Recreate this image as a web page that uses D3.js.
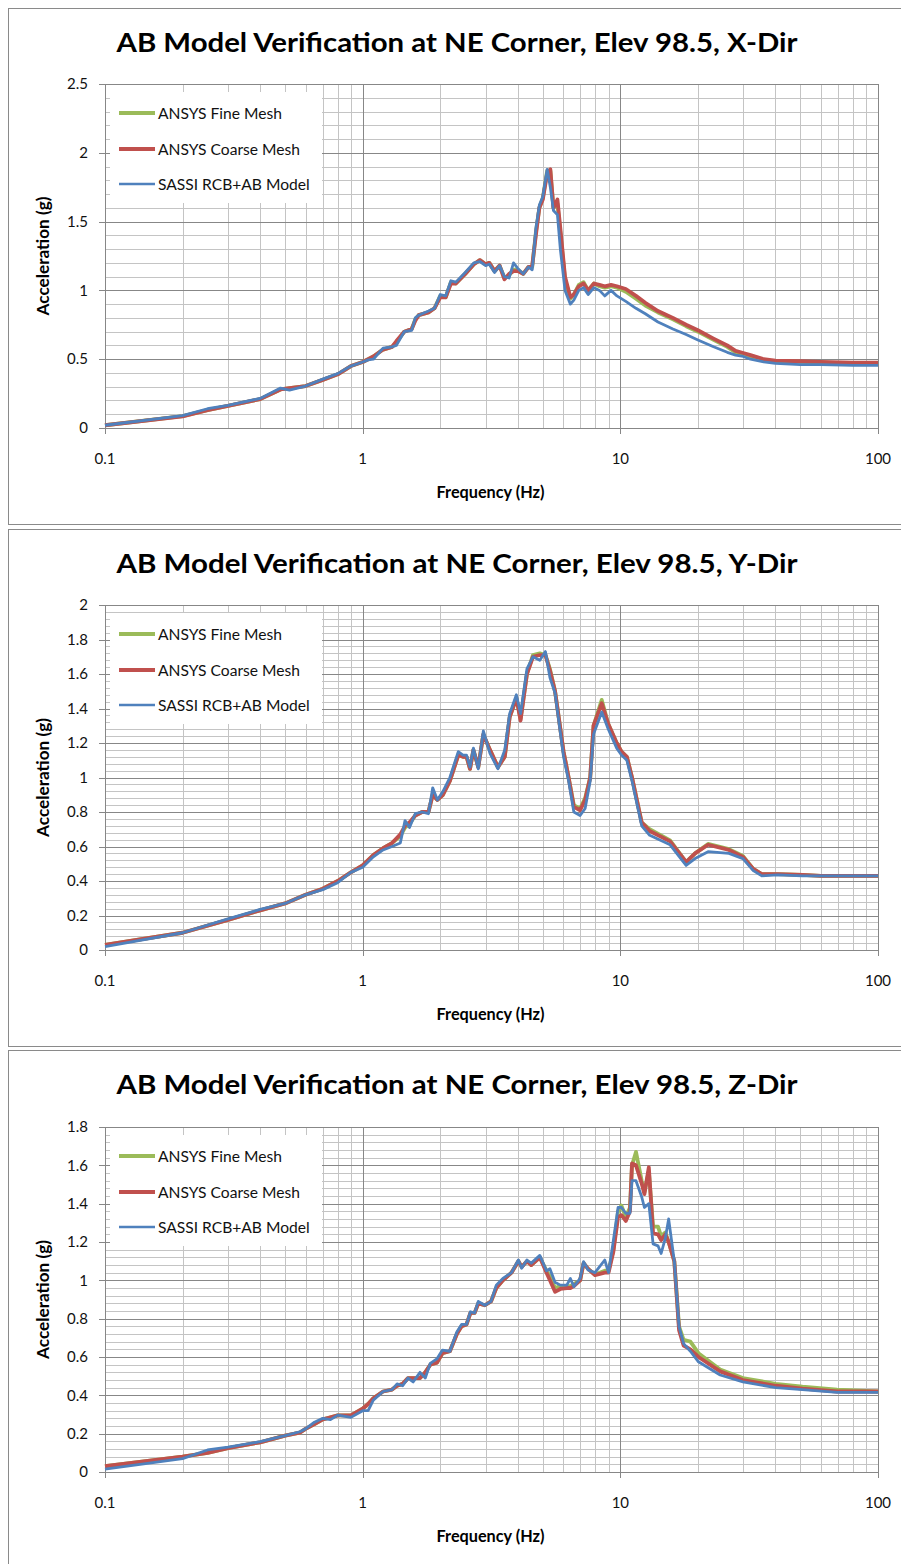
<!DOCTYPE html>
<html><head><meta charset="utf-8">
<script src="https://cdn.jsdelivr.net/npm/d3@7"></script>
<style>body{margin:0;background:#fff}svg{display:block}text{font-family:Lato,"Open Sans",sans-serif}</style>
</head><body>
<svg id="c" width="901" height="1564"></svg>
<script>
// ---------- DATA ----------
const seriesNames = ["ANSYS Fine Mesh", "ANSYS Coarse Mesh", "SASSI RCB+AB Model"];
const seriesColors = ["#9BBB59", "#C0504D", "#4F81BD"];
const titles = [
  "AB Model Verification at NE Corner, Elev 98.5, X-Dir",
  "AB Model Verification at NE Corner, Elev 98.5, Y-Dir",
  "AB Model Verification at NE Corner, Elev 98.5, Z-Dir"
];
const xTicks = [0.1, 1, 10, 100];
const yTicksX = [0, 0.5, 1, 1.5, 2, 2.5];
const yTicksY = [0, 0.2, 0.4, 0.6, 0.8, 1, 1.2, 1.4, 1.6, 1.8, 2];
const yTicksZ = [0, 0.2, 0.4, 0.6, 0.8, 1, 1.2, 1.4, 1.6, 1.8];

// X-Dir
const freqX = [0.1,0.2,0.25,0.3,0.4,0.48,0.52,0.6,0.7,0.8,0.9,1.0,1.05,1.1,1.2,1.3,1.35,1.45,1.55,1.6,1.65,1.8,1.9,2.0,2.1,2.2,2.3,2.5,2.7,2.85,3.0,3.1,3.25,3.4,3.55,3.7,3.85,4.0,4.2,4.4,4.55,4.7,4.85,5.0,5.2,5.35,5.5,5.7,5.85,6.1,6.4,6.6,6.9,7.2,7.5,7.9,8.3,8.7,9.2,9.7,10.5,11.5,12.5,14,16,18,20,23,26,28,30,32,36,40,50,60,80,100];
const fineX = [0.02,0.087,0.13,0.16,0.21,0.28,0.29,0.305,0.35,0.39,0.45,0.48,0.5,0.52,0.57,0.59,0.62,0.7,0.72,0.79,0.82,0.84,0.87,0.96,0.95,1.06,1.05,1.12,1.19,1.22,1.19,1.2,1.14,1.18,1.09,1.11,1.15,1.15,1.12,1.17,1.17,1.42,1.6,1.67,1.87,1.87,1.6,1.63,1.42,1.08,0.94,0.97,1.04,1.06,1.0,1.05,1.03,1.02,1.03,1.02,0.99,0.94,0.89,0.84,0.79,0.74,0.7,0.64,0.59,0.55,0.535,0.52,0.495,0.485,0.48,0.475,0.47,0.47];
const coarseX = [0.02,0.085,0.13,0.16,0.21,0.28,0.29,0.305,0.35,0.39,0.45,0.48,0.5,0.52,0.57,0.59,0.63,0.7,0.72,0.78,0.82,0.84,0.87,0.95,0.95,1.05,1.05,1.12,1.19,1.22,1.19,1.2,1.14,1.18,1.08,1.12,1.14,1.14,1.12,1.17,1.18,1.4,1.6,1.66,1.85,1.88,1.6,1.66,1.45,1.1,0.95,0.97,1.03,1.05,1.0,1.05,1.04,1.03,1.04,1.03,1.01,0.96,0.91,0.85,0.8,0.75,0.71,0.65,0.6,0.56,0.545,0.53,0.5,0.49,0.485,0.48,0.475,0.475];
const sassiX = [0.02,0.09,0.14,0.165,0.215,0.29,0.275,0.305,0.355,0.395,0.45,0.48,0.495,0.5,0.58,0.59,0.6,0.7,0.71,0.8,0.82,0.85,0.87,0.97,0.96,1.07,1.06,1.13,1.2,1.21,1.18,1.19,1.13,1.18,1.1,1.09,1.2,1.16,1.12,1.17,1.15,1.45,1.62,1.68,1.88,1.75,1.58,1.55,1.3,1.0,0.9,0.93,1.0,1.02,0.97,1.02,1.0,0.96,1.0,0.96,0.92,0.87,0.83,0.77,0.72,0.68,0.64,0.59,0.55,0.53,0.52,0.5,0.48,0.47,0.46,0.46,0.455,0.455];

// Y-Dir
const freqY = [0.1,0.2,0.3,0.4,0.5,0.6,0.7,0.8,0.9,1.0,1.1,1.2,1.3,1.4,1.46,1.52,1.6,1.7,1.8,1.87,1.95,2.05,2.18,2.35,2.45,2.53,2.61,2.69,2.81,2.94,3.12,3.35,3.56,3.72,3.95,4.1,4.34,4.58,4.87,5.12,5.33,5.58,6.02,6.3,6.6,6.98,7.3,7.64,7.87,8.47,8.98,9.68,10.1,10.6,11.1,12.1,13.0,15.6,18.0,19.5,21.9,26.4,29.9,32.8,35.4,40.8,50.9,60,100];
const fineY = [0.03,0.1,0.175,0.23,0.27,0.32,0.355,0.4,0.45,0.49,0.55,0.59,0.62,0.66,0.71,0.73,0.78,0.8,0.8,0.9,0.87,0.9,0.98,1.13,1.12,1.12,1.05,1.16,1.06,1.25,1.16,1.06,1.12,1.35,1.46,1.34,1.6,1.71,1.72,1.71,1.63,1.5,1.15,1.0,0.84,0.82,0.88,1.0,1.3,1.45,1.31,1.2,1.15,1.12,1.0,0.74,0.7,0.635,0.51,0.56,0.615,0.585,0.545,0.47,0.44,0.44,0.435,0.43,0.43];
const coarseY = [0.03,0.1,0.175,0.23,0.27,0.32,0.355,0.4,0.45,0.49,0.55,0.59,0.62,0.67,0.72,0.74,0.78,0.8,0.8,0.9,0.87,0.9,0.98,1.13,1.12,1.12,1.05,1.16,1.06,1.25,1.16,1.06,1.12,1.35,1.46,1.33,1.6,1.7,1.71,1.71,1.62,1.5,1.15,1.0,0.83,0.81,0.87,1.0,1.3,1.43,1.31,1.2,1.15,1.12,1.0,0.74,0.69,0.63,0.51,0.56,0.61,0.58,0.54,0.47,0.44,0.44,0.435,0.43,0.43];
const sassiY = [0.02,0.1,0.18,0.235,0.27,0.32,0.35,0.39,0.45,0.48,0.54,0.58,0.6,0.62,0.75,0.71,0.79,0.8,0.79,0.94,0.87,0.92,1.0,1.15,1.13,1.13,1.06,1.17,1.05,1.27,1.14,1.05,1.16,1.37,1.48,1.37,1.63,1.7,1.68,1.73,1.58,1.49,1.12,0.98,0.8,0.78,0.82,0.98,1.25,1.38,1.28,1.17,1.13,1.1,0.98,0.72,0.665,0.61,0.49,0.53,0.57,0.56,0.53,0.46,0.43,0.435,0.43,0.43,0.43];

// Z-Dir
const freqZ = [0.1,0.2,0.25,0.3,0.4,0.5,0.57,0.6,0.65,0.7,0.75,0.8,0.9,1.0,1.05,1.1,1.2,1.3,1.36,1.43,1.5,1.57,1.67,1.75,1.83,1.94,2.04,2.18,2.32,2.42,2.53,2.62,2.72,2.81,2.98,3.15,3.3,3.5,3.78,4.02,4.14,4.34,4.51,4.87,5.17,5.33,5.58,5.85,6.2,6.4,6.6,6.98,7.2,7.5,7.97,8.7,9.0,9.4,9.8,10.1,10.5,10.9,11.1,11.5,12.1,12.4,12.9,13.4,14.0,14.4,14.95,15.4,16.2,16.9,17.6,18.7,20.1,24.4,29.9,40.1,50.9,69.4,100];
const fineZ = [0.03,0.08,0.1,0.125,0.155,0.19,0.205,0.225,0.25,0.275,0.285,0.295,0.295,0.33,0.355,0.385,0.42,0.43,0.45,0.46,0.49,0.49,0.49,0.52,0.56,0.57,0.62,0.63,0.72,0.76,0.77,0.83,0.83,0.88,0.87,0.89,0.96,1.0,1.04,1.1,1.07,1.1,1.08,1.12,1.05,1.02,0.96,0.97,0.97,0.97,0.98,1.0,1.09,1.06,1.03,1.05,1.05,1.16,1.36,1.39,1.33,1.38,1.6,1.67,1.52,1.46,1.57,1.28,1.28,1.23,1.25,1.2,1.1,0.76,0.69,0.68,0.62,0.535,0.49,0.46,0.445,0.43,0.42];
const coarseZ = [0.03,0.08,0.1,0.125,0.155,0.19,0.205,0.225,0.25,0.275,0.285,0.295,0.295,0.33,0.355,0.385,0.42,0.43,0.45,0.46,0.49,0.49,0.49,0.52,0.56,0.57,0.62,0.63,0.72,0.76,0.77,0.83,0.83,0.88,0.87,0.89,0.96,1.0,1.04,1.1,1.07,1.1,1.08,1.12,1.04,1.0,0.94,0.955,0.96,0.96,0.97,1.0,1.09,1.06,1.027,1.04,1.04,1.15,1.33,1.34,1.31,1.36,1.61,1.6,1.506,1.45,1.59,1.245,1.24,1.21,1.24,1.2,1.1,0.74,0.66,0.64,0.6,0.525,0.48,0.45,0.435,0.42,0.42];
const sassiZ = [0.015,0.07,0.115,0.13,0.158,0.19,0.21,0.225,0.26,0.28,0.273,0.297,0.285,0.32,0.32,0.375,0.42,0.43,0.46,0.45,0.49,0.47,0.52,0.49,0.567,0.59,0.636,0.63,0.73,0.77,0.77,0.836,0.83,0.89,0.87,0.89,0.975,1.01,1.04,1.106,1.063,1.106,1.09,1.13,1.05,1.06,0.99,0.975,0.975,1.01,0.967,1.01,1.097,1.054,1.04,1.106,1.04,1.21,1.38,1.38,1.35,1.35,1.52,1.52,1.436,1.38,1.4,1.19,1.18,1.14,1.22,1.32,1.1,0.758,0.67,0.63,0.575,0.506,0.47,0.44,0.43,0.415,0.415];

// ---------- LAYOUT ----------
const panels = [
  {title: titles[0], freq: freqX, series: [fineX, coarseX, sassiX], yTicks: yTicksX, minor: 0.1, frameTop: 8, frameBottom: 524, plotTop: 84, plotBottom: 428},
  {title: titles[1], freq: freqY, series: [fineY, coarseY, sassiY], yTicks: yTicksY, minor: 0.04, frameTop: 529, frameBottom: 1046, plotTop: 605, plotBottom: 950},
  {title: titles[2], freq: freqZ, series: [fineZ, coarseZ, sassiZ], yTicks: yTicksZ, minor: 0.04, frameTop: 1050, frameBottom: 1570, plotTop: 1127, plotBottom: 1472}
];
const plotLeft = 105, plotRight = 878;
const majorCol = "#878787", minorCol = "#c4c4c4";
const widths = [3.8, 3.8, 2.8];

const svg = d3.select("#c");
const x = d3.scaleLog().domain([0.1, 100]).range([plotLeft, plotRight]);

// scale a text's font size so that its width matches a target
function fitSize(sel, base, target) {
  sel.attr("font-size", base);
  const w = sel.node().getComputedTextLength();
  sel.attr("font-size", base * target / w);
}

panels.forEach(p => {
  const g = svg.append("g");
  g.append("rect").attr("x", 8.5).attr("y", p.frameTop + 0.5).attr("width", 900).attr("height", p.frameBottom - p.frameTop)
    .attr("fill", "#fff").attr("stroke", "#8a8a8a").attr("stroke-width", 1);
  const yMax = p.yTicks[p.yTicks.length - 1];
  const y = d3.scaleLinear().domain([0, yMax]).range([p.plotBottom, p.plotTop]);

  const nMinor = Math.round(yMax / p.minor);
  const minorVals = d3.range(0, nMinor + 1).map(i => +(i * p.minor).toFixed(4));
  g.append("g").selectAll("line").data(minorVals).join("line")
    .attr("x1", plotLeft).attr("x2", plotRight)
    .attr("y1", d => Math.round(y(d)) + 0.5).attr("y2", d => Math.round(y(d)) + 0.5)
    .attr("stroke", minorCol).attr("stroke-width", 1);
  const minorX = [];
  [0.1, 1, 10].forEach(dec => { for (let k = 2; k <= 9; k++) minorX.push(dec * k); });
  g.append("g").selectAll("line").data(minorX).join("line")
    .attr("x1", d => Math.round(x(d)) + 0.5).attr("x2", d => Math.round(x(d)) + 0.5)
    .attr("y1", p.plotTop).attr("y2", p.plotBottom)
    .attr("stroke", minorCol).attr("stroke-width", 1);
  g.append("g").selectAll("line").data(p.yTicks).join("line")
    .attr("x1", plotLeft - 6).attr("x2", plotRight)
    .attr("y1", d => Math.round(y(d)) + 0.5).attr("y2", d => Math.round(y(d)) + 0.5)
    .attr("stroke", majorCol).attr("stroke-width", 1);
  g.append("g").selectAll("line").data(xTicks).join("line")
    .attr("x1", d => Math.round(x(d)) + 0.5).attr("x2", d => Math.round(x(d)) + 0.5)
    .attr("y1", p.plotTop).attr("y2", p.plotBottom + 6)
    .attr("stroke", majorCol).attr("stroke-width", 1);

  g.append("g").selectAll("text").data(p.yTicks).join("text")
    .attr("x", 88).attr("y", d => y(d) + 5.2).attr("text-anchor", "end")
    .attr("font-size", 15).attr("fill", "#111").text(d => d3.format("")(d));
  g.append("g").selectAll("text").data(xTicks).join("text")
    .attr("x", d => x(d)).attr("y", p.plotBottom + 36).attr("text-anchor", "middle")
    .attr("font-size", 15).attr("fill", "#111").text(d => String(d));

  const xt = g.append("text").attr("x", (plotLeft + plotRight) / 2 - 1).attr("y", p.plotBottom + 70)
    .attr("text-anchor", "middle").attr("font-weight", "bold").text("Frequency (Hz)");
  fitSize(xt, 13, 108);
  const yt = g.append("text").attr("transform", `translate(49,${(p.plotTop + p.plotBottom) / 2}) rotate(-90)`)
    .attr("text-anchor", "middle").attr("font-weight", "bold").text("Acceleration (g)");
  fitSize(yt, 13, 119);

  g.append("text").attr("x", 457).attr("y", p.frameTop + 44).attr("text-anchor", "middle")
    .attr("font-size", 27).attr("font-weight", "bold").attr("textLength", 681).attr("lengthAdjust", "spacingAndGlyphs")
    .text(p.title);

  const line = d3.line().x(d => x(d[0])).y(d => y(d[1]));
  p.series.forEach((vals, i) => {
    const pts = p.freq.map((f, j) => [f, vals[j]]);
    g.append("path").datum(pts).attr("d", line).attr("fill", "none")
      .attr("stroke", seriesColors[i]).attr("stroke-width", widths[i]).attr("stroke-linejoin", "round");
  });

  const lg = g.append("g");
  lg.append("rect").attr("x", plotLeft + 5).attr("y", p.plotTop + 8).attr("width", 212).attr("height", 111).attr("fill", "#fff");
  const offs = [29, 65, 100];
  let legSize = null;
  seriesNames.forEach((n, i) => {
    const yy = p.plotTop + offs[i];
    lg.append("line").attr("x1", 119).attr("x2", 155).attr("y1", yy).attr("y2", yy)
      .attr("stroke", seriesColors[i]).attr("stroke-width", i < 2 ? 4 : 2.6);
    const t = lg.append("text").attr("x", 158).attr("y", yy + 5.5).attr("fill", "#111").text(n);
    if (legSize === null) { fitSize(t, 15, 124); legSize = +t.attr("font-size"); }
    else t.attr("font-size", legSize);
  });
});
</script>
</body></html>
